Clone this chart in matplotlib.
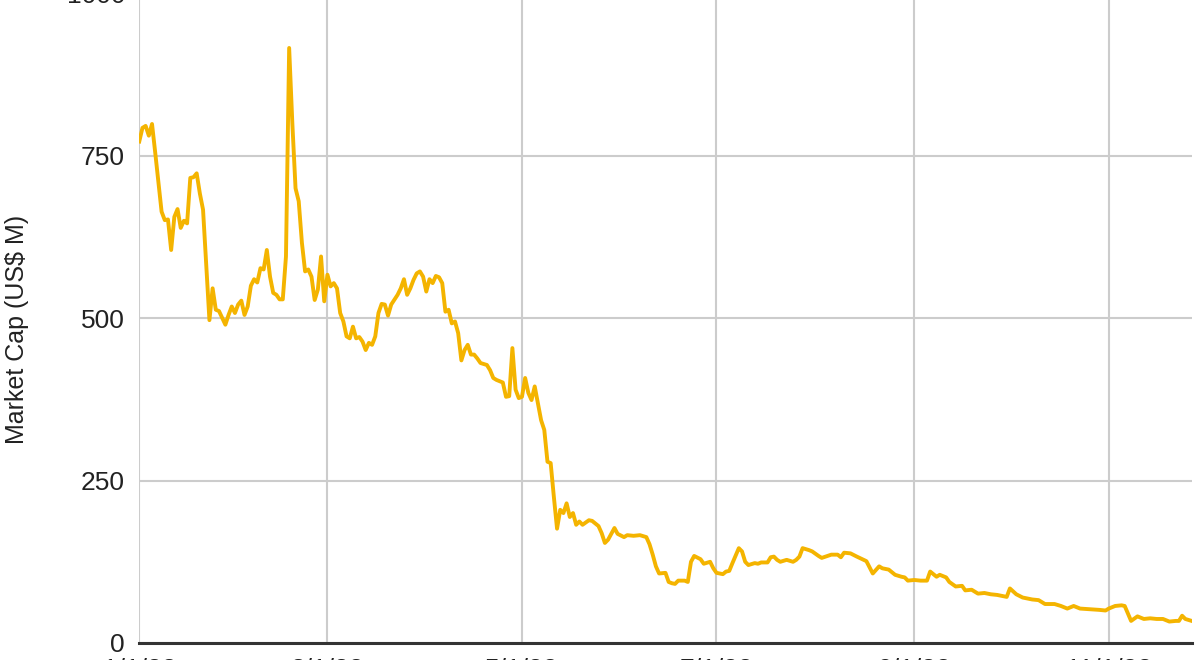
import numpy as np
import pandas as pd
import matplotlib
matplotlib.use("Agg")
import matplotlib.pyplot as plt
import matplotlib.dates as mdates

plt.rcParams['font.family'] = ['Liberation Sans', 'DejaVu Sans']

# days since 2022-01-01 and market cap (US$ M)
days = [0, 1, 2, 3, 4, 5, 7, 8, 9, 10, 11, 12, 13, 14, 15, 16, 17, 18, 19, 20,
        22, 23, 24, 25, 27, 28, 29, 30, 31, 32, 33, 34, 35, 36, 37, 38, 39, 40,
        41, 42, 43, 44, 45, 46, 47, 48, 49, 50, 51, 52, 53, 54, 55, 56, 57, 58,
        59, 60, 61, 62, 63, 64, 65, 66, 67, 68, 69, 70, 71, 72, 73, 74, 75, 76,
        77, 78, 79, 81, 82, 83, 84, 85, 86, 87, 88, 89, 90, 91, 92, 93, 94, 95,
        96, 97, 98, 99, 100, 101, 102, 103, 104, 105, 106, 107, 109, 110, 111,
        112, 114, 115, 116, 117, 118, 119, 120, 121, 122, 123, 124, 125, 126,
        127, 128, 129, 130, 131, 132, 133, 134, 135, 136, 137, 138, 139, 141,
        142, 144, 145, 146, 147, 149, 150, 152, 153, 155, 157, 159, 160, 161,
        162, 163, 165, 166, 167, 168, 169, 171, 172, 173, 174, 176, 177, 179,
        180, 181, 183, 184, 185, 186, 188, 189, 190, 191, 193, 194, 195, 197,
        198, 199, 200, 201, 203, 205, 206, 207, 208, 210, 211, 213, 214, 217,
        219, 220, 221, 223, 225, 228, 230, 232, 233, 235, 237, 239, 240, 241,
        243, 245, 247, 248, 250, 251, 253, 254, 256, 258, 259, 261, 263, 265,
        267, 269, 271, 272, 273, 275, 277, 280, 282, 284, 287, 289, 291, 293,
        295, 298, 301, 303, 304, 306, 308, 309, 311, 313, 315, 317, 319, 321,
        323, 325, 326, 327, 328, 330]
market_cap = [772, 793, 796, 781, 799, 755, 664, 651, 652, 605, 656, 668, 639,
              650, 646, 716, 717, 723, 692, 667, 497, 546, 513, 511, 490, 505,
              518, 508, 521, 527, 505, 518, 550, 560, 555, 577, 575, 605, 564,
              539, 536, 529, 529, 595, 916, 800, 700, 680, 616, 572, 575, 564,
              528, 544, 595, 526, 567, 549, 554, 546, 508, 495, 472, 469, 487,
              469, 471, 464, 451, 462, 459, 472, 508, 522, 521, 504, 521, 536,
              546, 560, 536, 546, 559, 569, 572, 564, 541, 560, 554, 565, 563,
              554, 510, 513, 492, 495, 477, 435, 451, 459, 444, 444, 438, 431,
              428, 420, 408, 405, 401, 379, 380, 454, 390, 377, 379, 408, 385,
              374, 395, 369, 343, 328, 279, 277, 225, 176, 205, 200, 215, 194,
              200, 182, 187, 182, 189, 188, 180, 169, 154, 159, 177, 168, 163,
              166, 165, 166, 163, 152, 136, 118, 107, 108, 94, 92, 91, 96, 96,
              94, 125, 134, 129, 122, 125, 115, 108, 106, 110, 111, 123, 146,
              141, 125, 120, 123, 122, 124, 124, 132, 133, 128, 125, 128, 125,
              128, 133, 146, 143, 141, 134, 131, 136, 136, 132, 139, 138, 133,
              126, 107, 118, 115, 113, 105, 102, 101, 96, 97, 96, 96, 110, 102,
              105, 101, 94, 87, 88, 81, 82, 76, 77, 75, 74, 72, 71, 84, 75, 70,
              67, 66, 60, 60, 57, 53, 57, 53, 52, 51, 50, 53, 57, 58, 57, 34,
              41, 37, 38, 37, 37, 33, 34, 34, 42, 37, 34]
tick_dates = ["2022-01-01", "2022-03-01", "2022-05-01", "2022-07-01",
              "2022-09-01", "2022-11-01"]
y_ticks = [0, 250, 500, 750, 1000]

start = pd.Timestamp("2022-01-01")
dates = start + pd.to_timedelta(days, unit="D")
ticks = pd.to_datetime(tick_dates)

fig = plt.figure(figsize=(12.02, 6.6), dpi=100)
ax = fig.add_axes([139 / 1202, 17 / 660, 1053 / 1202, 649.6 / 660])

ax.plot(dates, market_cap, color="#f4b400", lw=2.8, solid_joinstyle="round", zorder=3)

ax.set_xlim(start - pd.Timedelta(hours=2), start + pd.Timedelta(days=330.1))
ax.set_ylim(0, 1000)
ax.set_yticks(y_ticks)
ax.set_xticks(ticks)
ax.xaxis.set_major_formatter(mdates.DateFormatter("%-m/%-d/%y"))

for s in ["top", "right", "left"]:
    ax.spines[s].set_visible(False)
ax.spines["bottom"].set_color("#333333")
ax.spines["bottom"].set_linewidth(2.2)
ax.spines["bottom"].set_zorder(4)

ax.grid(True, color="#cccccc", lw=1.5, zorder=0)
ax.set_axisbelow(True)
ax.tick_params(axis="both", length=0, labelsize=19, labelcolor="#222222")
ax.tick_params(axis="y", pad=10)
ax.tick_params(axis="x", pad=11)

ax.set_ylabel("Market Cap (US$ M)", fontsize=18, color="#222222")
ax.yaxis.set_label_coords(-0.104, 0.482)

fig.savefig("out.png", dpi=100)
